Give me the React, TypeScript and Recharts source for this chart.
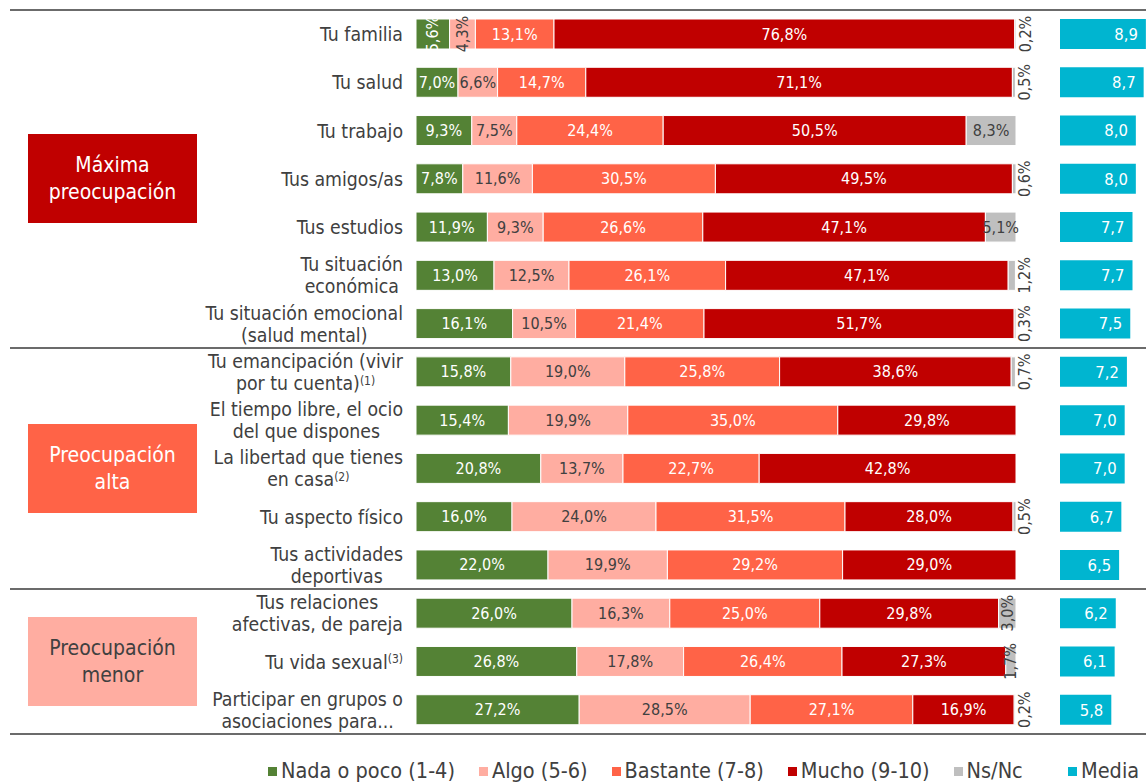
import React from 'react';
import { BarChart, Bar, XAxis, YAxis, LabelList } from 'recharts';

const categories = [
  'Tu familia',
  'Tu salud',
  'Tu trabajo',
  'Tus amigos/as',
  'Tus estudios',
  'Tu situación económica',
  'Tu situación emocional (salud mental)',
  'Tu emancipación (vivir por tu cuenta)',
  'El tiempo libre, el ocio del que dispones',
  'La libertad que tienes en casa',
  'Tu aspecto físico',
  'Tus actividades deportivas',
  'Tus relaciones afectivas, de pareja',
  'Tu vida sexual',
  'Participar en grupos o asociaciones para...',
];

// tick labels as drawn, one entry per line, "^" marks a superscript
const tickLines = [
  ['Tu familia'],
  ['Tu salud'],
  ['Tu trabajo'],
  ['Tus amigos/as'],
  ['Tus estudios'],
  ['Tu situación', 'económica'],
  ['Tu situación emocional', '(salud mental)'],
  ['Tu emancipación (vivir', 'por tu cuenta)^(1)'],
  ['El tiempo libre, el ocio', 'del que dispones'],
  ['La libertad que tienes', 'en casa^(2)'],
  ['Tu aspecto físico'],
  ['Tus actividades', 'deportivas'],
  ['Tus relaciones', 'afectivas, de pareja'],
  ['Tu vida sexual^(3)'],
  ['Participar en grupos o', 'asociaciones para...'],
];

const nada = [5.6, 7.0, 9.3, 7.8, 11.9, 13.0, 16.1, 15.8, 15.4, 20.8, 16.0, 22.0, 26.0, 26.8, 27.2];
const algo = [4.3, 6.6, 7.5, 11.6, 9.3, 12.5, 10.5, 19.0, 19.9, 13.7, 24.0, 19.9, 16.3, 17.8, 28.5];
const bastante = [13.1, 14.7, 24.4, 30.5, 26.6, 26.1, 21.4, 25.8, 35.0, 22.7, 31.5, 29.2, 25.0, 26.4, 27.1];
const mucho = [76.8, 71.1, 50.5, 49.5, 47.1, 47.1, 51.7, 38.6, 29.8, 42.8, 28.0, 29.0, 29.8, 27.3, 16.9];
const nsnc = [0.2, 0.5, 8.3, 0.6, 5.1, 1.2, 0.3, 0.7, null, null, 0.5, null, 3.0, 1.7, 0.2];
const media = [8.9, 8.7, 8.0, 8.0, 7.7, 7.7, 7.5, 7.2, 7.0, 7.0, 6.7, 6.5, 6.2, 6.1, 5.8];

const groups = [
  { title: ['Máxima', 'preocupación'], rows: 7, bg: '#C00000', color: '#fff' },
  { title: ['Preocupación', 'alta'], rows: 5, bg: '#FF6347', color: '#fff' },
  { title: ['Preocupación', 'menor'], rows: 3, bg: '#FFADA1', color: '#404040' },
];

const series = [
  { key: 'nada', name: 'Nada o poco (1-4)', color: '#548235', text: '#fff', rotateBelow: 6 },
  { key: 'algo', name: 'Algo (5-6)', color: '#FFADA1', text: '#404040', rotateBelow: 6 },
  { key: 'bastante', name: 'Bastante (7-8)', color: '#FF6347', text: '#fff', rotateBelow: 0 },
  { key: 'mucho', name: 'Mucho (9-10)', color: '#C00000', text: '#fff', rotateBelow: 0 },
  { key: 'nsnc', name: 'Ns/Nc', color: '#BFBFBF', text: '#404040', rotateBelow: 5 },
];
const MEDIA_COLOR = '#00B5D0';

const data = categories.map((name, i) => ({
  name,
  nada: nada[i],
  algo: algo[i],
  bastante: bastante[i],
  mucho: mucho[i],
  nsnc: nsnc[i],
  media: media[i],
}));

const FONT = '"DejaVu Sans Condensed", "DejaVu Sans", sans-serif';
const TEXT = '#404040';
const TICK_SIZE = 19.3;
const SUP_SIZE = 12;
const LABEL_SIZE = 16;
const PLOT_TOP = 10;
const PLOT_BOTTOM = 734;
const ROW_H = (PLOT_BOTTOM - PLOT_TOP) / categories.length;

const fmt = (v: number) => v.toFixed(1).replace('.', ',');

let ctx: CanvasRenderingContext2D | null = null;
const measure = (text: string, size: number) => {
  if (!ctx) ctx = document.createElement('canvas').getContext('2d');
  if (!ctx) return text.length * size * 0.5;
  ctx.font = `${size}px ${FONT}`;
  return ctx.measureText(text).width;
};

const CategoryTick = (props: any) => {
  const { x, y, payload } = props;
  const idx = categories.indexOf(payload.value);
  const parsed = tickLines[idx].map((l) => {
    const [main, sup] = l.split('^');
    return { main, sup };
  });
  const widths = parsed.map((p) => measure(p.main, TICK_SIZE) + (p.sup ? measure(p.sup, SUP_SIZE) : 0));
  const cx = x - Math.max(...widths) / 2;
  return (
    <g>
      {parsed.map((p, i) => (
        <text
          key={i}
          x={cx}
          y={y + (i - (parsed.length - 1) / 2) * 22}
          dy="0.36em"
          textAnchor="middle"
          fontSize={TICK_SIZE}
          fill={TEXT}
          fontFamily={FONT}
        >
          {p.main}
          {p.sup && (
            <tspan fontSize={SUP_SIZE} dy="-0.45em">
              {p.sup}
            </tspan>
          )}
        </text>
      ))}
    </g>
  );
};

const makeLabel = (color: string, rotateBelow: number) => (props: any) => {
  const box = props.viewBox ?? props;
  const { x, y, width, height } = box;
  const value = props.value;
  if (value == null || value === 0) return null;
  const cy = y + height / 2;
  if (value < rotateBelow) {
    const outside = width < 8;
    const cx = outside ? x + width + 9 : x + width / 2;
    return (
      <text
        x={cx}
        y={cy}
        transform={`rotate(-90 ${cx} ${cy})`}
        textAnchor="middle"
        dominantBaseline="central"
        fontSize={LABEL_SIZE}
        fontFamily={FONT}
        fill={outside ? TEXT : color}
      >
        {fmt(value)}%
      </text>
    );
  }
  return (
    <text
      x={x + width / 2}
      y={cy}
      textAnchor="middle"
      dominantBaseline="central"
      fontSize={LABEL_SIZE}
      fontFamily={FONT}
      fill={color}
    >
      {fmt(value)}%
    </text>
  );
};

const legendStyle: React.CSSProperties = {
  position: 'absolute',
  top: 760,
  display: 'flex',
  alignItems: 'center',
  fontSize: 21.5,
  lineHeight: '22px',
  color: TEXT,
  whiteSpace: 'nowrap',
};

const App: React.FC = () => {
  let rowAcc = 0;
  const separators = [PLOT_TOP];
  const boxes = groups.map((g) => {
    const top = PLOT_TOP + rowAcc * ROW_H;
    rowAcc += g.rows;
    const bottom = PLOT_TOP + rowAcc * ROW_H;
    separators.push(bottom);
    return { ...g, center: (top + bottom) / 2 };
  });

  return (
    <div
      style={{
        position: 'absolute',
        left: 0,
        top: 0,
        width: 1146,
        height: 782,
        overflow: 'hidden',
        background: '#fff',
        fontFamily: FONT,
      }}
    >
      {separators.map((s, i) => (
        <div
          key={i}
          style={{ position: 'absolute', left: 10, width: 1136, top: s - 1, height: 2, background: '#6b6b6b' }}
        />
      ))}

      {boxes.map((b, i) => (
        <div
          key={i}
          style={{
            position: 'absolute',
            left: 28,
            width: 169,
            top: b.center - 44.5,
            height: 89,
            background: b.bg,
            color: b.color,
            fontSize: 21,
            lineHeight: '27px',
            display: 'flex',
            flexDirection: 'column',
            alignItems: 'center',
            justifyContent: 'center',
          }}
        >
          {b.title.map((t) => (
            <div key={t}>{t}</div>
          ))}
        </div>
      ))}

      <div style={{ position: 'absolute', left: 0, top: 0 }}>
        <BarChart
          layout="vertical"
          width={1050}
          height={744}
          data={data}
          margin={{ top: PLOT_TOP, right: 34, bottom: 744 - PLOT_BOTTOM, left: 0 }}
        >
          <XAxis type="number" domain={[0, 100]} allowDataOverflow hide />
          <YAxis
            type="category"
            dataKey="name"
            width={416}
            axisLine={false}
            tickLine={false}
            tickSize={0}
            tickMargin={13}
            interval={0}
            tick={<CategoryTick />}
          />
          {series.map((s) => (
            <Bar
              key={s.key}
              dataKey={s.key}
              name={s.name}
              stackId="a"
              fill={s.color}
              stroke="#fff"
              strokeWidth={1}
              barSize={30}
              isAnimationActive={false}
            >
              <LabelList dataKey={s.key} content={makeLabel(s.text, s.rotateBelow)} />
            </Bar>
          ))}
        </BarChart>
      </div>

      <div style={{ position: 'absolute', left: 1040, top: 0 }}>
        <BarChart
          layout="vertical"
          width={107}
          height={744}
          data={data}
          margin={{ top: PLOT_TOP, right: 0, bottom: 744 - PLOT_BOTTOM, left: 20 }}
        >
          <XAxis type="number" domain={[1.2, 9]} allowDataOverflow hide />
          <YAxis type="category" dataKey="name" hide />
          <Bar dataKey="media" name="Media" fill={MEDIA_COLOR} barSize={30} isAnimationActive={false}>
            <LabelList
              dataKey="media"
              position="insideRight"
              offset={8}
              fill="#fff"
              fontSize={16.5}
              fontFamily={FONT}
              formatter={(v: any) => fmt(Number(v))}
            />
          </Bar>
        </BarChart>
      </div>

      <div style={{ ...legendStyle, left: 268, gap: 24 }}>
        {series.map((s) => (
          <div key={s.key} style={{ display: 'flex', alignItems: 'center' }}>
            <span style={{ width: 9, height: 9, background: s.color, marginRight: 4, display: 'inline-block' }} />
            {s.name}
          </div>
        ))}
      </div>
      <div style={{ ...legendStyle, left: 1068 }}>
        <span style={{ width: 9, height: 9, background: MEDIA_COLOR, marginRight: 4, display: 'inline-block' }} />
        Media
      </div>
    </div>
  );
};

export default App;
